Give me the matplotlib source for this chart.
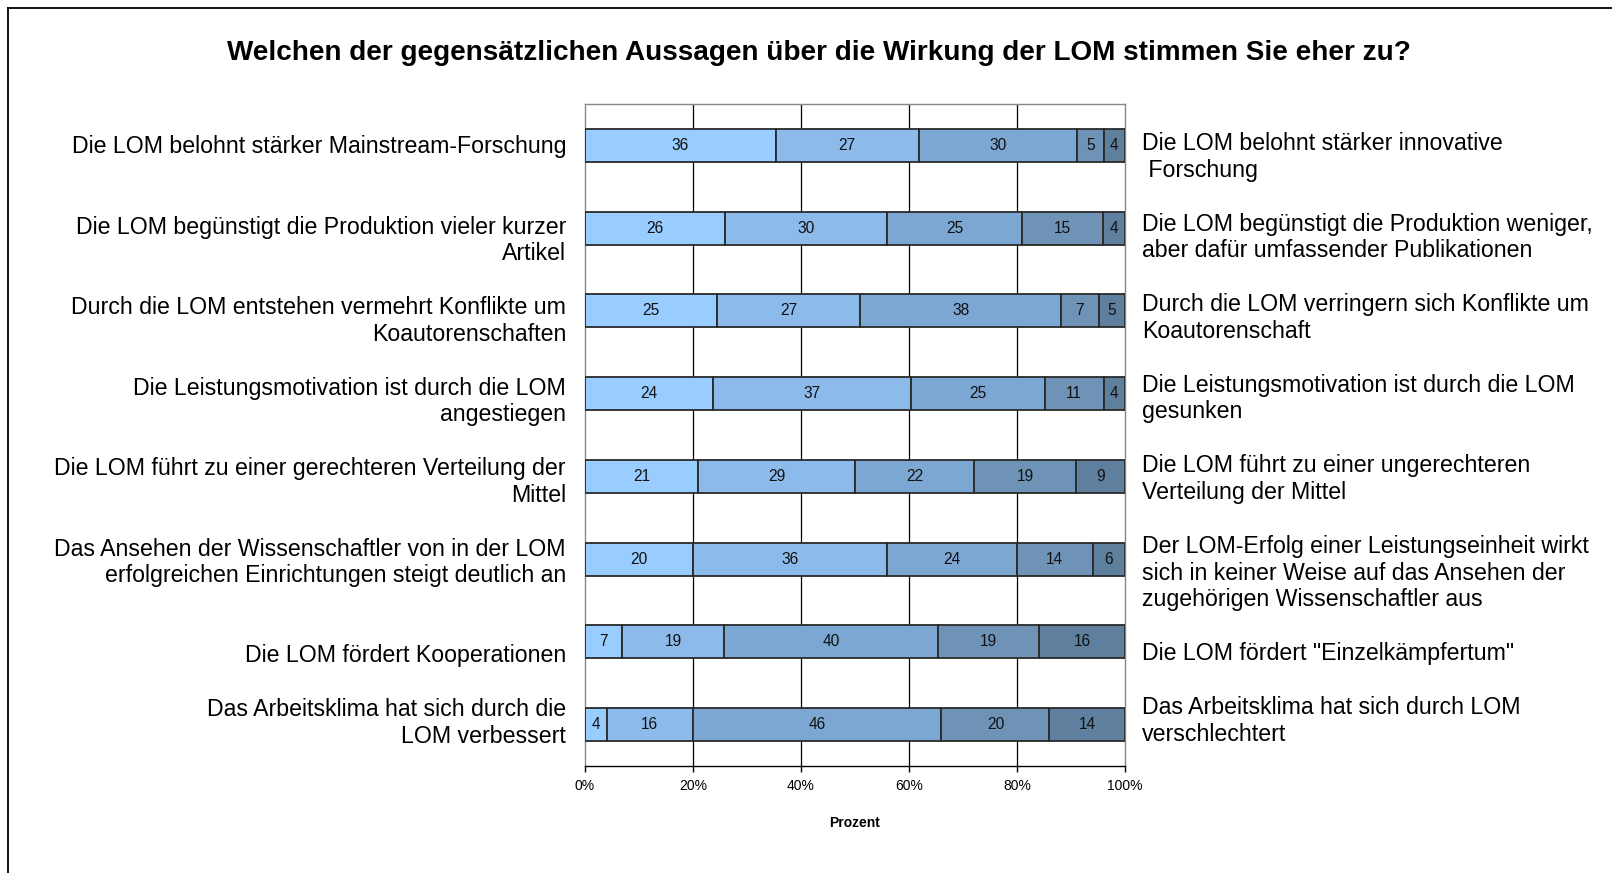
import matplotlib
matplotlib.use("Agg")
import matplotlib.pyplot as plt
from matplotlib.lines import Line2D
import numpy as np

plt.rcParams['font.family'] = ['Liberation Sans', 'DejaVu Sans']

title = "Welchen der gegensätzlichen Aussagen über die Wirkung der LOM stimmen Sie eher zu?"
xlabel = "Prozent"

left_labels = [
    "Die LOM belohnt stärker Mainstream-Forschung",
    "Die LOM begünstigt die Produktion vieler kurzer\nArtikel",
    "Durch die LOM entstehen vermehrt Konflikte um\nKoautorenschaften",
    "Die Leistungsmotivation ist durch die LOM\nangestiegen",
    "Die LOM führt zu einer gerechteren Verteilung der\nMittel",
    "Das Ansehen der Wissenschaftler von in der LOM\nerfolgreichen Einrichtungen steigt deutlich an",
    "\nDie LOM fördert Kooperationen",
    "Das Arbeitsklima hat sich durch die\nLOM verbessert",
]
right_labels = [
    "Die LOM belohnt stärker innovative\n Forschung",
    "Die LOM begünstigt die Produktion weniger,\naber dafür umfassender Publikationen",
    "Durch die LOM verringern sich Konflikte um\nKoautorenschaft",
    "Die Leistungsmotivation ist durch die LOM\ngesunken",
    "Die LOM führt zu einer ungerechteren\nVerteilung der Mittel",
    "Der LOM-Erfolg einer Leistungseinheit wirkt\nsich in keiner Weise auf das Ansehen der\nzugehörigen Wissenschaftler aus",
    "\nDie LOM fördert \"Einzelkämpfertum\"",
    "Das Arbeitsklima hat sich durch LOM\nverschlechtert",
]

seg1 = [36, 26, 25, 24, 21, 20, 7, 4]
seg2 = [27, 30, 27, 37, 29, 36, 19, 16]
seg3 = [30, 25, 38, 25, 22, 24, 40, 46]
seg4 = [5, 15, 7, 11, 19, 14, 19, 20]
seg5 = [4, 4, 5, 4, 9, 6, 16, 14]

xticks = [0, 20, 40, 60, 80, 100]
xticklabels = ["0%", "20%", "40%", "60%", "80%", "100%"]

colors = ["#99CCFF", "#8CBAEA", "#7BA7D2", "#6E93B7", "#5E7F9D"]

W, H = 1612, 873
fig = plt.figure(figsize=(W / 100, H / 100), dpi=100)
fig.patch.set_facecolor("white")

def fy(px):
    return 1 - px / H

def fx(px):
    return px / W

ax = fig.add_axes([fx(585), fy(766), fx(1125) - fx(585), fy(104) - fy(766)])

segs = np.array([seg1, seg2, seg3, seg4, seg5], dtype=float)
totals = segs.sum(axis=0)
pct = segs / totals * 100
ypos = np.arange(len(seg1))
left = np.zeros(len(seg1))
for k in range(segs.shape[0]):
    bars = ax.barh(ypos, pct[k], left=left, height=0.4, color=colors[k],
                   edgecolor="#2a2a2a", linewidth=1.3, zorder=3)
    for i, b in enumerate(bars):
        ax.text(left[i] + pct[k][i] / 2, ypos[i], f"{int(segs[k][i])}",
                ha="center", va="center", fontsize=11.2, color="#111111", zorder=4)
    left += pct[k]

ax.set_xlim(0, 100)
ax.set_ylim(len(seg1) - 0.5, -0.5)
ax.set_yticks([])
ax.set_xticks(xticks)
ax.set_xticklabels(xticklabels, fontsize=10)
ax.tick_params(axis="x", direction="out", length=4, width=1, pad=5, colors="black")
for x in xticks[1:-1]:
    ax.axvline(x, color="black", linewidth=0.9, zorder=1)
for s in ["left", "right", "top"]:
    ax.spines[s].set_color("#888888")
    ax.spines[s].set_linewidth(1)
ax.spines["bottom"].set_color("black")
ax.spines["bottom"].set_linewidth(1)
ax.set_xlabel(xlabel, fontsize=10, fontweight="bold", labelpad=17)

fig.text(fx(818.5), fy(60), title, ha="center", va="baseline",
         fontsize=20.1, fontweight="bold")

LINE = 26.7   # pixel distance between text lines
LFS = 16.7
LSP = 1.19

for i, t in enumerate(left_labels):
    n = t.count("\n")
    fig.text(fx(566), fy(153 + 80.46 * i + n * LINE), t, ha="right", va="baseline",
             fontsize=LFS, multialignment="right", linespacing=LSP)
for i, t in enumerate(right_labels):
    n = t.count("\n")
    fig.text(fx(1142), fy(150 + 80.55 * i + n * LINE), t, ha="left", va="baseline",
             fontsize=LFS, multialignment="left", linespacing=LSP)

fig.add_artist(Line2D([fx(8), 1.2], [fy(8), fy(8)], color="black", linewidth=1.3))
fig.add_artist(Line2D([fx(8), fx(8)], [fy(8), -0.2], color="black", linewidth=1.3))

fig.savefig("out.png", dpi=100, facecolor="white")
